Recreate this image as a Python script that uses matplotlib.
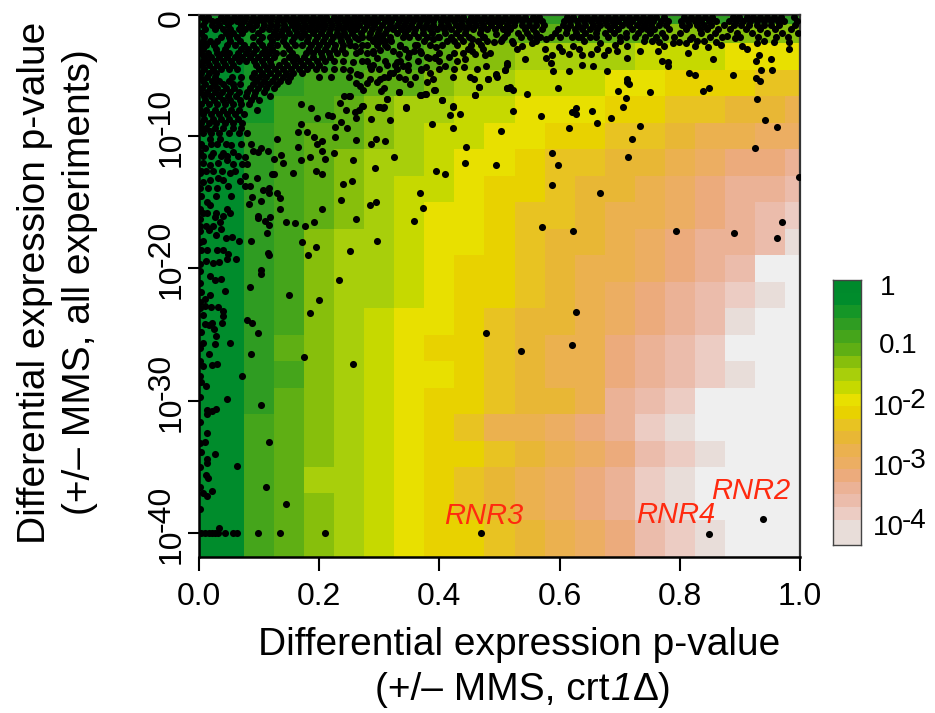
import numpy as np
import matplotlib
matplotlib.use("Agg")
import matplotlib.pyplot as plt
from matplotlib.colors import ListedColormap

plt.rcParams['font.family'] = ['Liberation Sans', 'DejaVu Sans']

W, H = 935, 713

# colour levels, index 0 = p close to 1 ... index 20 = lightest
level_colors = ['#008a2c', '#008c2c', '#159627', '#2f9c22', '#45a51b', '#5faf14', '#87bf0c',
                '#a8cf0b', '#c6d900', '#e8e000', '#e8d200', '#e8c322', '#e8b735', '#ebb14f',
                '#ecae62', '#ecab7c', '#ebb296', '#ebbcab', '#ecccc3', '#e8ddd9', '#efefef']
colorbar_levels = [0, 1, 2, 3, 4, 5, 6, 7, 8, 9, 10, 11, 12, 13, 14, 15, 16, 17, 18, 19, 19]

# cell values (level index), top row first
cell_levels = [
    [2, 2, 3, 3, 3, 3, 3, 3, 3, 3, 3, 3, 3, 3, 3, 3, 3, 3, 3, 3, 3],
    [1, 1, 2, 2, 3, 3, 4, 4, 4, 5, 5, 5, 5, 5, 5, 5, 6, 6, 6, 6, 6],
    [1, 1, 2, 3, 3, 4, 4, 4, 5, 6, 6, 7, 7, 7, 7, 8, 8, 8, 9, 9, 9],
    [1, 1, 2, 3, 4, 4, 5, 5, 6, 7, 7, 8, 8, 8, 9, 9, 10, 10, 10, 11, 11],
    [1, 1, 2, 4, 4, 5, 6, 7, 7, 8, 8, 9, 9, 9, 10, 10, 11, 11, 12, 12, 13],
    [1, 1, 3, 4, 5, 5, 6, 7, 8, 8, 9, 9, 10, 10, 11, 11, 12, 13, 13, 14, 14],
    [1, 1, 3, 4, 5, 6, 7, 7, 8, 9, 9, 10, 11, 11, 12, 12, 13, 14, 15, 15, 16],
    [1, 1, 3, 4, 5, 6, 7, 8, 8, 9, 10, 10, 11, 12, 12, 13, 14, 15, 16, 16, 17],
    [1, 1, 3, 4, 5, 6, 7, 8, 9, 9, 10, 11, 11, 12, 13, 13, 14, 15, 16, 17, 18],
    [1, 1, 3, 4, 6, 7, 7, 8, 9, 9, 10, 11, 12, 12, 13, 14, 15, 16, 16, 17, 19],
    [1, 1, 3, 4, 6, 7, 7, 8, 9, 10, 10, 11, 12, 13, 13, 14, 15, 16, 17, 20, 20],
    [1, 1, 3, 4, 6, 7, 7, 8, 9, 10, 10, 11, 12, 13, 14, 15, 16, 17, 18, 19, 20],
    [1, 1, 3, 4, 6, 7, 8, 9, 9, 10, 11, 12, 12, 13, 14, 15, 16, 17, 19, 20, 20],
    [1, 1, 3, 5, 6, 7, 8, 9, 10, 10, 11, 12, 13, 13, 15, 16, 17, 18, 20, 20, 20],
    [1, 1, 3, 4, 6, 7, 8, 9, 9, 10, 11, 12, 13, 13, 15, 16, 17, 18, 19, 20, 20],
    [1, 1, 3, 5, 6, 7, 8, 9, 10, 10, 11, 12, 12, 13, 16, 17, 18, 20, 20, 20, 20],
    [1, 1, 4, 5, 6, 7, 8, 9, 10, 11, 13, 13, 14, 15, 16, 18, 19, 20, 20, 20, 20],
    [1, 1, 4, 5, 6, 7, 8, 9, 10, 10, 11, 12, 13, 14, 15, 17, 18, 19, 20, 20, 20],
    [1, 1, 4, 5, 7, 7, 8, 9, 10, 11, 12, 13, 14, 15, 16, 18, 19, 20, 20, 20, 20],
    [1, 1, 4, 5, 6, 7, 8, 9, 10, 11, 12, 13, 14, 15, 16, 18, 19, 20, 20, 20, 20],
    [1, 1, 4, 5, 6, 7, 8, 9, 10, 10, 11, 12, 13, 14, 15, 17, 18, 19, 20, 20, 20],
    [1, 1, 4, 5, 6, 7, 8, 9, 10, 10, 11, 12, 13, 14, 15, 17, 18, 19, 20, 20, 20],
]
x_edges = [0, .025, .075, .125, .175, .225, .275, .325, .375, .425, .475, .525, .575,
           .625, .675, .725, .775, .825, .875, .925, .975, 1.0]
y_edges = [.85, 1.5, 3, 5, 7, 9, 11, 13, 15, 17, 19, 21, 23, 25, 27, 29, 31, 33, 35, 37, 39, 41, 41.8]

# genes: (p-value crt1, -log10 p-value all experiments), isolated points
gene_points = [
    (.502, 9.6), (.444, 10.8), (.443, 12.0), (.495, 12.2), (.395, 12.6), (.410, 12.9), (.324, 11.6), (.367, 14.3),
    (.372, 15.4), (.357, 16.4), (.388, 9.1), (.423, 9.4), (.423, 7.7), (.417, 8.4), (.434, 8.3), (.344, 7.9),
    (.317, 8.8), (.286, 8.7), (.312, 7.2), (.301, 7.8), (.306, 7.9), (.273, 7.7), (.260, 8.2), (.262, 8.6),
    (.267, 8.0), (.235, 7.5), (.245, 8.0), (.241, 7.0), (.249, 7.0), (.333, 6.7), (.369, 6.9), (.377, 6.8),
    (.405, 7.3), (.392, 6.5), (.460, 6.9), (.466, 6.3), (.481, 5.7), (.495, 5.4), (.512, 6.4), (.294, 10.2),
    (.309, 10.4), (.286, 10.6), (.261, 10.3), (.247, 9.4), (.236, 8.9), (.226, 9.3), (.227, 10.1), (.224, 11.3),
    (.210, 11.7), (.205, 11.1), (.196, 10.6), (.205, 10.4), (.192, 10.1), (.179, 9.7), (.165, 9.7), (.169, 9.1),
    (.215, 8.4), (.222, 8.5), (.197, 8.6), (.186, 7.9), (.169, 7.6), (.257, 11.8), (.293, 12.4), (.240, 13.6),
    (.255, 13.4), (.237, 14.8), (.285, 15.2), (.294, 15.0), (.205, 15.5), (.261, 16.3), (.297, 17.9), (.252, 18.7),
    (.233, 20.9), (.195, 18.4), (.181, 19.0), (.172, 18.0), (.191, 16.5), (.176, 16.8), (.160, 16.6), (.145, 16.5),
    (.134, 15.5), (.134, 14.7), (.129, 14.3), (.117, 13.9), (.117, 14.3), (.106, 14.1), (.103, 14.9), (.089, 14.6),
    (.083, 15.1), (.085, 13.8), (.077, 13.8), (.069, 13.4), (.096, 13.2), (.076, 13.0), (.121, 12.9), (.125, 12.9),
    (.157, 12.8), (.195, 12.6), (.205, 12.9), (.170, 11.8), (.184, 11.6), (.139, 12.0), (.136, 11.4), (.124, 11.7),
    (.114, 11.1), (.164, 10.8), (.129, 10.2), (.098, 11.2), (.090, 11.1), (.103, 10.9), (.086, 10.6), (.077, 11.6),
    (.080, 12.1), (.072, 12.1), (.098, 16.0), (.098, 16.2), (.110, 16.4), (.117, 16.7), (.118, 16.1), (.113, 17.3),
    (.087, 17.9), (.067, 17.9), (.055, 17.6), (.045, 17.7), (.114, 18.8), (.116, 19.0), (.103, 20.1), (.103, 20.4),
    (.085, 21.4), (.061, 19.3), (.049, 18.9), (.046, 19.3), (.033, 19.5), (.023, 19.6), (.011, 19.4), (.018, 20.6),
    (.027, 20.9), (.036, 20.8), (.029, 17.5), (.016, 17.1), (.007, 17.9), (.037, 17.0), (.035, 16.5), (.040, 16.0),
    (.027, 16.1), (.046, 15.5), (.018, 15.2), (.013, 15.0), (.029, 14.5), (.053, 14.5), (.049, 13.8), (.040, 13.3),
    (.052, 12.8), (.032, 13.2), (.018, 13.3), (.007, 13.5), (.004, 14.5), (.057, 12.1), (.046, 11.8), (.032, 12.0),
    (.018, 12.2), (.007, 12.0), (.057, 11.2), (.040, 11.3), (.024, 11.3), (.010, 10.9), (.054, 10.7), (.035, 10.2),
    (.018, 10.2), (.004, 10.7), (.018, 9.6),
    (.043, 21.7), (.149, 22.0), (.199, 22.4), (.184, 23.4), (.080, 23.9), (.089, 24.1), (.098, 24.9), (.052, 25.6),
    (.027, 25.7), (.007, 25.6), (.029, 25.1), (.025, 24.6), (.038, 24.1), (.040, 23.6), (.040, 23.2), (.031, 22.9),
    (.020, 22.9), (.010, 22.8), (.018, 22.0), (.010, 22.3), (.004, 21.8), (.006, 23.5), (.021, 24.1), (.010, 24.2),
    (.016, 24.3), (.004, 24.8), (.016, 26.5), (.087, 26.5), (.174, 26.7), (.256, 27.2), (.030, 27.2), (.021, 27.3),
    (.007, 27.4), (.072, 28.1), (.004, 28.6), (.011, 28.9), (.046, 29.9), (.002, 29.7), (.103, 30.3), (.029, 30.6),
    (.022, 30.8), (.013, 30.7), (.013, 31.0), (.014, 32.4), (.010, 33.1), (.117, 33.1), (.026, 34.0), (.003, 33.9),
    (.013, 34.4), (.013, 34.7), (.063, 34.9), (.011, 35.6), (.015, 35.8), (.112, 36.5), (.022, 36.8), (.007, 37.0),
    (.013, 37.2), (.145, 37.8), (.034, 39.6), (.004, 40), (.010, 40), (.016, 40), (.021, 40), (.027, 40), (.032, 40),
    (.044, 40), (.057, 40), (.063, 40), (.099, 40), (.135, 40), (.210, 40), (.469, 40), (.477, 24.9),
    (.628, 23.3), (.536, 26.2), (.620, 25.8), (.848, 40.06), (.938, 38.9),
    (.970, 16.5), (.962, 17.7), (.890, 17.3), (.793, 17.2), (.623, 17.2), (.570, 16.9), (.668, 14.3), (.588, 13.7),
    (.597, 12.2), (.588, 11.3), (.714, 11.6), (.721, 10.2), (.734, 9.2), (.686, 8.6), (.705, 7.8), (.711, 7.1),
    (.698, 6.6), (.751, 6.7), (.712, 5.7), (.712, 5.9), (.715, 6.1), (.662, 9.0), (.654, 8.1), (.616, 9.4),
    (.620, 8.2), (.627, 8.3), (.628, 7.9), (.569, 8.5), (.522, 8.1), (.546, 6.8), (.523, 6.5), (.515, 6.4),
    (.509, 5.0), (.513, 4.6), (.542, 4.2), (.589, 5.1), (.597, 6.4), (.616, 5.1), (.679, 5.1), (.638, 4.6),
    (.656, 4.7), (.712, 4.1), (.733, 3.6), (.763, 3.6), (.770, 4.3), (.781, 4.4), (.781, 4.7), (.814, 3.7),
    (.856, 4.2), (.815, 5.2), (.826, 5.4), (.849, 6.4), (.838, 6.6), (.889, 5.4), (.927, 5.6), (.934, 5.8),
    (.929, 7.2), (.941, 8.8), (.962, 9.3), (.925, 10.9), (.999, 13.1), (.953, 5.0), (.935, 5.0), (.927, 4.3),
    (.931, 3.9), (.951, 4.2), (.981, 3.4), (.981, 2.9), (.957, 2.9), (.929, 3.0), (.911, 3.4), (.904, 3.2),
    (.869, 3.1), (.847, 3.3), (.860, 2.9), (.892, 2.6), (.878, 2.4), (.829, 2.8), (.825, 3.2), (.817, 2.7),
    (.811, 3.0), (.798, 2.9), (.789, 3.0), (.773, 3.2), (.766, 2.9), (.754, 2.8), (.712, 3.2), (.696, 3.6),
    (.692, 3.1), (.681, 3.5), (.674, 3.9), (.652, 3.8), (.638, 3.9), (.616, 3.8), (.663, 3.4), (.667, 3.0),
    (.633, 3.4), (.623, 3.2), (.604, 3.6), (.599, 3.3), (.587, 3.9), (.576, 3.4), (.578, 4.1), (.586, 4.5),
    (.577, 2.7), (.554, 3.0), (.538, 3.2), (.529, 3.4), (.523, 3.0), (.504, 2.7),
    (.473, 3.4), (.448, 3.4), (.454, 3.6), (.459, 3.8), (.476, 3.9), (.442, 4.2), (.477, 4.7), (.441, 4.8),
    (.462, 4.9), (.410, 4.7), (.416, 4.0), (.393, 4.0), (.393, 4.1), (.379, 4.0), (.382, 4.1), (.348, 4.0),
    (.348, 4.6), (.339, 4.7), (.347, 5.0), (.329, 4.4), (.326, 4.6), (.312, 4.6), (.290, 4.6), (.287, 4.9),
    (.285, 4.7), (.268, 5.4), (.263, 5.3), (.251, 5.0), (.271, 4.3), (.257, 4.4), (.296, 4.1), (.318, 5.2),
    (.323, 5.2), (.333, 5.5), (.343, 5.7), (.351, 6.1), (.369, 5.0), (.377, 4.8), (.384, 5.2), (.389, 5.7),
    (.380, 5.9), (.391, 6.5), (.376, 6.8), (.368, 6.9), (.405, 7.3), (.423, 5.5), (.451, 5.5), (.458, 5.7),
    (.481, 5.7), (.494, 5.3), (.496, 5.5), (.509, 5.0), (.513, 4.5), (.466, 6.3), (.459, 6.9), (.513, 6.4),
    (.517, 6.3), (.307, 5.5), (.301, 5.7), (.297, 5.9), (.285, 5.7), (.280, 6.0), (.262, 6.0), (.268, 6.2),
    (.273, 6.5), (.307, 6.4), (.303, 6.6), (.333, 6.7), (.312, 7.2), (.272, 7.7), (.298, 7.8), (.307, 7.8),
    (.344, 7.8), (.423, 7.8), (.251, 7.0), (.320, 2.8), (.332, 3.8), (.323, 3.6), (.312, 3.3), (.301, 3.5),
    (.290, 3.6), (.279, 3.7), (.268, 3.6), (.259, 3.2), (.265, 2.7), (.279, 3.1), (.301, 2.8), (.343, 3.4),
    (.334, 3.2), (.357, 3.6), (.368, 3.6), (.362, 3.1), (.395, 3.3), (.390, 2.7), (.398, 2.5), (.413, 2.8),
    (.425, 2.8), (.454, 2.7), (.465, 2.8), (.491, 2.9), (.502, 2.8), (.473, 2.5), (.495, 2.3),
]

# densely packed genes, listed row by row: y value of the row, then x values in it
dense_row_y = [1.0, 1.3, 1.6, 1.9, 2.2, 2.5, 2.8, 3.1, 3.4, 3.7, 4.0, 4.3, 4.6, 4.9, 5.2, 5.5, 5.8, 6.1, 6.4, 6.7,
               7.0, 7.3, 7.6, 8.0, 8.3, 8.7, 9.0, 9.4, 9.8, 10.6, 11.5, 12.6, 13.9, 15.8, 16.8, 18.6]
dense_row_x = [
    [.005, .015, .036, .047, .058, .068, .079, .09, .101, .112, .122, .133, .145, .156, .168, .178, .19, .201, .212, .224,
     .235, .247, .258, .268, .279, .291, .303, .314, .326, .337, .349, .361, .372, .383, .394, .406, .418, .429, .44, .452,
     .463, .474, .486, .497, .509, .52, .531, .543, .555, .566, .612, .623, .635, .646, .658, .669, .681, .692, .704, .715,
     .727, .739, .75, .761, .773, .807, .819, .83, .842, .853, .888, .899, .911, .922, .934, .945, .957, .968, .99],
    [.01, .021, .03, .042, .053, .064, .075, .086, .097, .107, .118, .129, .14, .151, .162, .173, .184, .195, .206, .218,
     .23, .241, .252, .263, .274, .286, .297, .309, .32, .332, .344, .356, .367, .379, .39, .402, .413, .424, .436, .447,
     .458, .47, .481, .492, .504, .515, .526, .537, .549, .56, .571, .607, .617, .629, .641, .652, .664, .675, .687, .698,
     .71, .721, .733, .745, .756, .768, .78, .802, .813, .825, .836, .848, .86, .882, .894, .905, .917, .928, .94, .951,
     .963, .974, .995],
    [.006, .022, .034, .049, .07, .083, .095, .108, .12, .13, .142, .155, .165, .176, .188, .2, .209, .222, .233, .244, .256,
     .266, .28, .292, .305, .317, .33, .341, .353, .366, .378, .39, .402, .414, .427, .438, .45, .461, .473, .486, .499, .512,
     .524, .537, .549, .561, .574, .606, .618, .631, .643, .655, .668, .679, .691, .703, .716, .728, .74, .752, .765, .777,
     .803, .815, .828, .84, .852, .874, .89, .902, .915, .928, .94, .952, .965, .992],
    [.01, .026, .04, .052, .066, .077, .089, .104, .116, .128, .14, .147, .16, .172, .183, .195, .207, .218, .229, .239,
     .251, .262, .275, .288, .3, .312, .323, .336, .347, .36, .372, .384, .396, .408, .42, .433, .445, .456, .47, .48, .493,
     .506, .518, .543, .556, .57, .598, .613, .625, .638, .65, .663, .684, .697, .72, .735, .745, .757, .782, .81, .833,
     .846, .864, .884, .91, .933, .958, .985],
    [.004, .045, .056, .072, .098, .125, .136, .15, .163, .175, .19, .203, .216, .229, .241, .254, .27, .285, .298, .31, .329,
     .343, .358, .373, .388, .409, .427, .443, .467, .513, .53, .546, .56, .593, .61, .627, .642, .66, .675, .69, .71, .73,
     .75, .77, .8, .835, .858, .895, .92, .945, .97, .996],
    [.009, .036, .05, .063, .09, .104, .118, .13, .142, .158, .17, .182, .196, .21, .223, .235, .247, .26, .272, .283, .294,
     .305, .318, .34, .35, .365, .38, .4, .42, .435, .45, .475, .508, .535, .55, .56, .568, .585, .6, .62, .63, .635, .65,
     .66, .68, .7, .71, .725, .742, .76, .775, .79, .82, .85, .87, .9, .93, .96, .98],
    [.006, .018, .03, .052, .068, .1, .122, .14, .155, .18, .193, .207, .22, .236, .25, .29, .31, .375, .44, .48, .52, .56,
     .64, .7, .74, .84, .94],
    [.004, .012, .025, .047, .06, .075, .09, .105, .118, .13, .145, .16, .172, .187, .2, .213, .226, .24, .252, .272, .296,
     .31, .335, .36, .385, .405, .43, .452, .47],
    [.006, .028, .044, .07, .082, .095, .11, .122, .15, .183, .197, .21, .224, .238],
    [.003, .015, .03, .04, .05, .065, .078, .09, .104, .116, .128, .14, .155, .178, .19, .203, .216, .23, .243, .262, .29,
     .35, .37, .4, .425, .44, .485],
    [.008, .02, .033, .047, .06, .072, .085, .098, .112, .125, .15, .162, .175, .19, .204, .218],
    [.006, .014, .026, .04, .053, .066, .078, .092, .105, .118, .142, .156, .168, .182, .196, .21, .225, .24, .28, .31, .335,
     .365, .4, .43],
    [.005, .017, .03, .044, .057, .095, .108, .12, .133, .147, .16, .173, .186, .2],
    [.009, .023, .037, .05, .064, .1, .113, .126, .14, .153, .166, .18, .194, .208, .225, .24, .3, .33, .37, .4, .425],
    [.004, .016, .029, .092, .105, .118, .131, .144, .157, .171],
    [.002, .014, .026, .055, .07, .088, .1, .112, .126, .139, .152, .2, .22, .25, .315, .36],
    [.007, .021, .034, .05, .095, .108, .121, .135, .148],
    [.01, .025, .04, .056, .068, .09, .103, .115, .13],
    [.005, .018, .03, .045, .058, .085, .098, .111, .124],
    [.002, .014, .026, .038, .052, .066, .08, .094, .108],
    [.008, .02, .034, .048, .062, .078, .091, .118],
    [.01, .025, .04, .052, .068, .086, .1],
    [.004, .016, .03, .043, .056, .07, .084],
    [.002, .012, .026, .04, .053, .067, .096],
    [.007, .02, .033, .047, .06, .075],
    [.009, .023, .036, .05, .065],
    [.004, .016, .029, .043, .057, .072],
    [.003, .012, .027, .04, .056, .07],
    [.007, .02, .034, .05, .066, .08],
    [.004, .02, .03, .045, .07],
    [.006, .02, .036, .047, .065],
    [.004, .012, .024, .038, .06],
    [.002, .015, .03],
    [.006, .014, .028, .052],
    [.002, .012, .024],
    [.004, .014, .03, .04],
]
# genes on the left edge of the plot
edge_gene_x = .002
edge_gene_y = [11.2, 12.8, 15.5, 16.3, 17.2, 18.0, 19.7, 20.2, 21.1, 22.5, 23.0, 26.0, 27.0, 28.1, 31.6, 33.2, 35.0, 36.5, 38.2]

tick_x = [0.0, 0.2, 0.4, 0.6, 0.8, 1.0]
tick_x_labels = ['0.0', '0.2', '0.4', '0.6', '0.8', '1.0']
tick_y = [10, 20, 30, 40]
y_top = .85
y_bottom = 41.8

gene_labels = [('RNR3', .408, 39.3), ('RNR4', .727, 39.2), ('RNR2', .852, 37.4)]
colorbar_plain = [('1', 880, 295), ('0.1', 879, 353)]
colorbar_powers = [('-2', 415), ('-3', 475), ('-4', 535)]


def rect(l, t, r, b):
    return [l / W, 1 - b / H, (r - l) / W, (b - t) / H]


fig = plt.figure(figsize=(W / 100, H / 100), dpi=100)
ax = fig.add_axes(rect(199, 15, 800, 557))
cmap = ListedColormap(level_colors)
ax.pcolormesh(x_edges, y_edges, np.array(cell_levels), cmap=cmap, vmin=-.5, vmax=20.5,
              antialiased=False, linewidth=0, zorder=1)

xs = [p[0] for p in gene_points]
ys = [p[1] for p in gene_points]
for row_y, row in zip(dense_row_y, dense_row_x):
    xs.extend(row)
    ys.extend([row_y] * len(row))
xs.extend([edge_gene_x] * len(edge_gene_y))
ys.extend(edge_gene_y)
ax.scatter(xs, ys, s=26, c='black', linewidths=0, zorder=3)

ax.set_xlim(0, 1)
ax.set_ylim(y_bottom, y_top)
ax.set_xticks(tick_x, tick_x_labels)
ax.set_yticks([y_top] + tick_y, [''] * (len(tick_y) + 1))
ax.tick_params(axis='x', length=10, width=1.5, labelsize=23, pad=8, colors='black')
ax.tick_params(axis='y', length=8, width=1.5)
for s in ('left', 'bottom'):
    ax.spines[s].set_linewidth(1.8)
for s in ('right', 'top'):
    ax.spines[s].set_linewidth(1.6)
    ax.spines[s].set_color('#333333')

ytrans = ax.get_yaxis_transform()
for v in tick_y:
    ax.annotate('10', xy=(0, v), xycoords=ytrans, xytext=(-19, -31), textcoords='offset pixels',
                rotation=90, rotation_mode='anchor', ha='left', va='baseline', fontsize=23, annotation_clip=False)
    ax.annotate('-%d' % v, xy=(0, v), xycoords=ytrans, xytext=(-29, 1), textcoords='offset pixels',
                rotation=90, rotation_mode='anchor', ha='left', va='baseline', fontsize=23, annotation_clip=False)
ax.annotate('0', xy=(0, y_top), xycoords=ytrans, xytext=(-19, -12), textcoords='offset pixels',
            rotation=90, rotation_mode='anchor', ha='left', va='baseline', fontsize=23, annotation_clip=False)

for name, gx, gy in gene_labels:
    ax.text(gx, gy, name, color='#ff2a0f', style='italic', fontsize=21, ha='left', va='baseline', zorder=4)

fig.text(519 / W, 1 - 655 / H, 'Differential expression p-value', fontsize=28, ha='center', va='baseline')

# second x-axis label line: roman, italic "1", roman, set piece by piece on one baseline
renderer = fig.canvas.get_renderer()
pen_x = 375.0
for piece, piece_style in [('(+/\u2013 MMS, crt', 'normal'), ('1', 'italic'), ('\u0394)', 'normal')]:
    t = fig.text(pen_x / W, 1 - 700 / H, piece, fontsize=28, style=piece_style, ha='left', va='baseline')
    pen_x += t.get_window_extent(renderer).width + 1

fig.text(45 / W, 1 - 283 / H, 'Differential expression p-value', fontsize=28, rotation=90, rotation_mode='anchor',
         ha='center', va='baseline')
fig.text(90 / W, 1 - 282 / H, '(+/\u2013 MMS, all experiments)', fontsize=28, rotation=90, rotation_mode='anchor',
         ha='center', va='baseline')

cax = fig.add_axes(rect(833, 280, 861, 545))
cax.imshow(np.array(colorbar_levels)[:, None], cmap=cmap, vmin=-.5, vmax=20.5, aspect='auto', interpolation='nearest')
cax.set_xticks([])
cax.set_yticks([])
for s in cax.spines.values():
    s.set_linewidth(1.0)
    s.set_color('#444444')
for label, lx, ly in colorbar_plain:
    fig.text(lx / W, 1 - ly / H, label, fontsize=20, ha='left', va='baseline')
for label, ly in colorbar_powers:
    fig.text(873 / W, 1 - ly / H, '10', fontsize=20, ha='left', va='baseline')
    fig.text(902 / W, 1 - (ly - 7) / H, label, fontsize=20, ha='left', va='baseline')

fig.savefig('out.png', dpi=100)
